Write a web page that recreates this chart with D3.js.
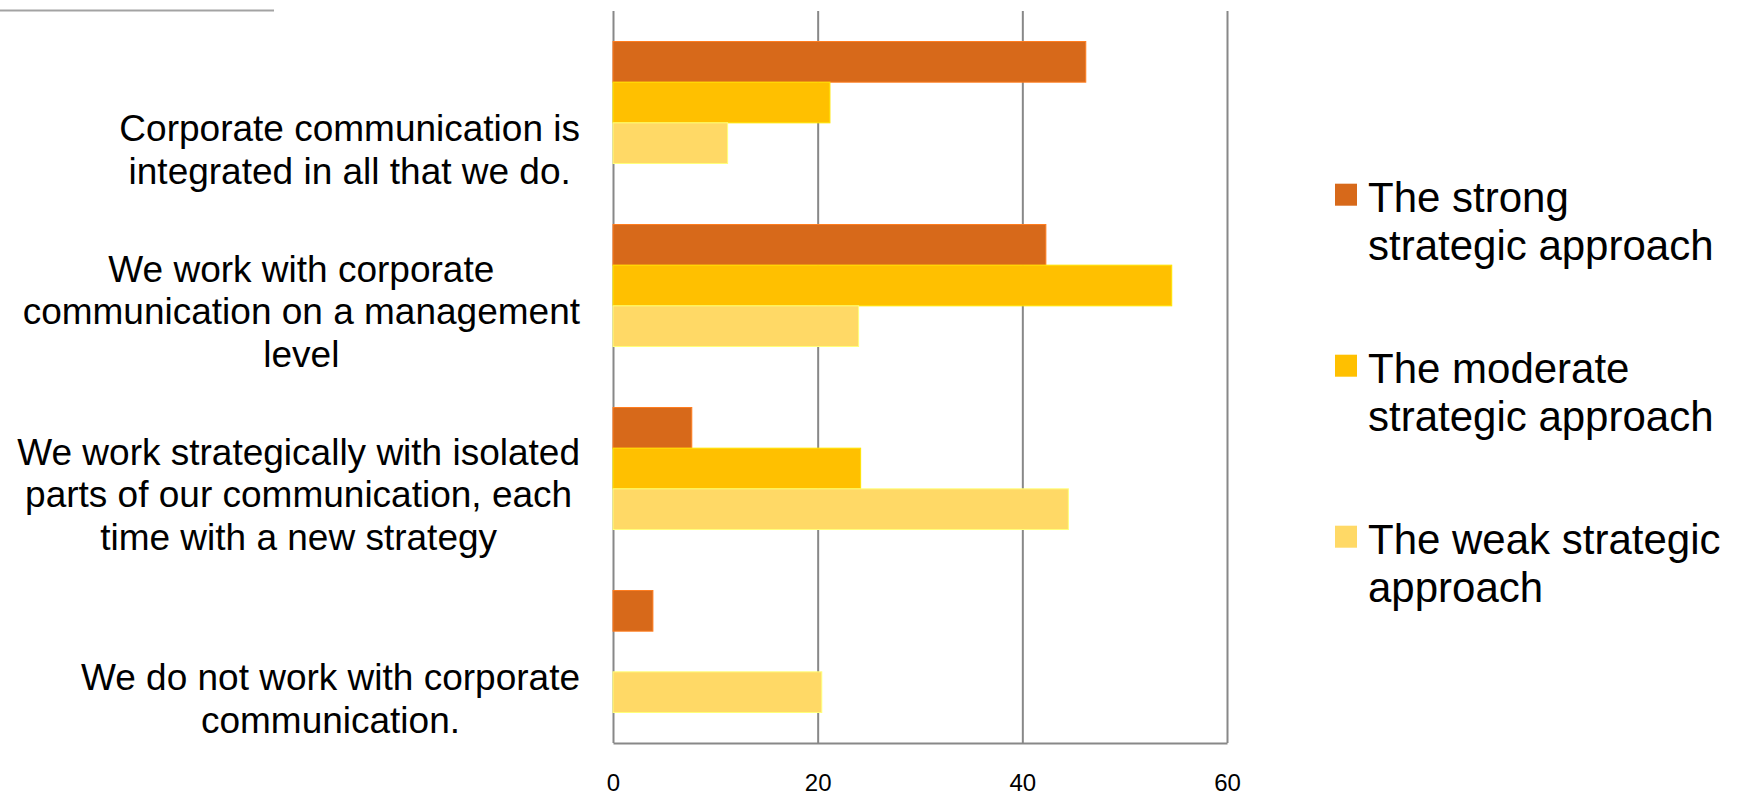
<!DOCTYPE html>
<html>
<head>
<meta charset="utf-8">
<script src="https://cdn.jsdelivr.net/npm/d3@7"></script>
<style>
  html, body { margin: 0; padding: 0; background: #fff; }
  svg { display: block; }
  text { font-family: "Liberation Sans", Arial, Helvetica, sans-serif; fill: #000; }
</style>
</head>
<body>
<svg id="chart" width="1742" height="796"></svg>
<script>
// Statements, one entry per category, split into the lines they are shown on
const categories = [
  ["Corporate communication is", "integrated in all that we do."],
  ["We work with corporate", "communication on a management", "level"],
  ["We work strategically with isolated", "parts of our communication, each", "time with a new strategy"],
  ["We do not work with corporate", "communication."]
];

// Share of respondents (%) per approach
const strongValues   = [46.2, 42.3, 7.7, 3.9];
const moderateValues = [21.2, 54.6, 24.2, 0];
const weakValues     = [11.2, 24.0, 44.5, 20.4];

const seriesNames = [
  ["The strong", "strategic approach"],
  ["The moderate", "strategic approach"],
  ["The weak strategic", "approach"]
];
const seriesColors = ["#D7691A", "#FFC000", "#FFD966"];

const xTicks = [0, 20, 40, 60];

const svg = d3.select("#chart");

const plot = { left: 613, right: 1227, top: 11, bottom: 743 };

const series = [strongValues, moderateValues, weakValues];

const x = d3.scaleLinear().domain([0, 60]).range([plot.left, plot.right]);
const y = d3.scaleBand()
  .domain(d3.range(categories.length))
  .range([plot.top, plot.bottom])
  .paddingInner(1 / 3)
  .paddingOuter(1 / 6);
const yInner = d3.scaleBand()
  .domain(d3.range(series.length))
  .range([0, y.bandwidth()]);

// thin rule at the top left
svg.append("line")
  .attr("x1", 0).attr("x2", 274)
  .attr("y1", 10.5).attr("y2", 10.5)
  .attr("stroke", "#a3a3a3").attr("stroke-width", 2);

// value axis with full-height gridlines
const xAxis = svg.append("g")
  .attr("transform", `translate(0,${plot.bottom})`)
  .call(d3.axisBottom(x)
    .tickValues(xTicks)
    .tickFormat(d3.format("d"))
    .tickSize(-(plot.bottom - plot.top))
    .tickSizeOuter(0)
    .tickPadding(31));
xAxis.select(".domain").attr("stroke", "#888").attr("stroke-width", 2);
xAxis.selectAll(".tick line").attr("stroke", "#888").attr("stroke-width", 2);
xAxis.selectAll(".tick text")
  .attr("font-size", 24)
  .style("font-family", "\"Liberation Sans\", Arial, sans-serif")
  .attr("fill", "#000");

// bars
const groups = svg.append("g").selectAll("g")
  .data(categories.map((c, i) => i))
  .join("g")
  .attr("transform", i => `translate(0,${y(i)})`);

groups.selectAll("rect")
  .data(i => series.map((s, k) => ({ k, v: s[i] })).filter(d => d.v > 0))
  .join("rect")
  .attr("x", x(0))
  .attr("y", d => yInner(d.k))
  .attr("width", d => x(d.v) - x(0))
  .attr("height", yInner.bandwidth())
  .attr("fill", d => seriesColors[d.k])
  .attr("stroke", d => d3.color(seriesColors[d.k]).brighter(0.5))
  .attr("stroke-width", 1);

// category labels: lines centred within a block whose right edge sits left of the axis
const labelRight = 580;
const labelSize = 37;
const labelLine = 42.5;
categories.forEach((lines, i) => {
  const center = y(i) + y.bandwidth() / 2;
  const lastBaseline = center + 81;
  const t = svg.append("text")
    .attr("font-size", labelSize)
    .attr("text-anchor", "middle");
  const spans = t.selectAll("tspan")
    .data(lines)
    .join("tspan")
    .attr("y", (d, j) => lastBaseline - (lines.length - 1 - j) * labelLine)
    .text(d => d);
  let maxW = 0;
  spans.each(function () { maxW = Math.max(maxW, this.getComputedTextLength()); });
  spans.attr("x", labelRight - maxW / 2);
});

// legend
const legend = svg.append("g");
const legendItems = legend.selectAll("g")
  .data(seriesNames)
  .join("g")
  .attr("transform", (d, k) => `translate(1335,${211.7 + k * 171})`);
legendItems.append("rect")
  .attr("x", 0).attr("y", -28)
  .attr("width", 22).attr("height", 22)
  .attr("fill", (d, k) => seriesColors[k]);
legendItems.append("text")
  .attr("font-size", 42)
  .selectAll("tspan")
  .data(d => d)
  .join("tspan")
  .attr("x", 33)
  .attr("y", (d, j) => j * 48.3)
  .text(d => d);
</script>
</body>
</html>
